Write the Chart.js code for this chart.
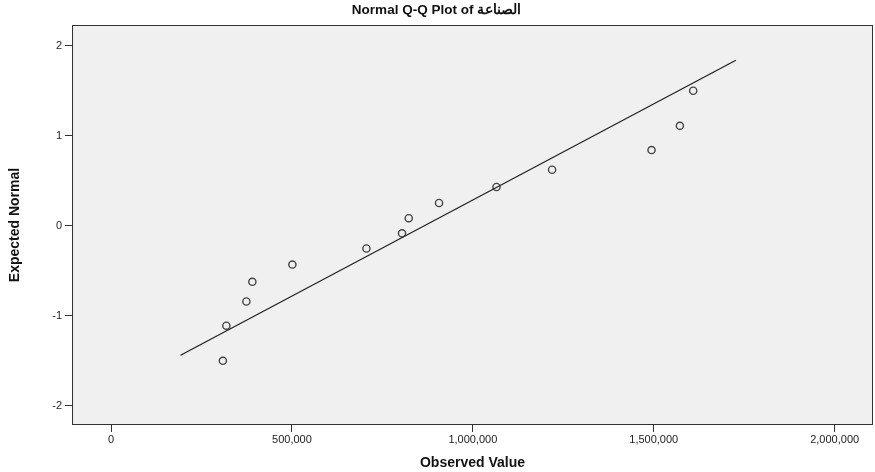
<!DOCTYPE html>
<html>
<head>
<meta charset="utf-8">
<script src="https://cdn.jsdelivr.net/npm/chart.js@4"></script>
<style>
  body { margin: 0; background: #fff; }
  #wrap { width: 875px; height: 472px; }
</style>
</head>
<body>
<div id="wrap"><canvas id="qq" width="875" height="472"></canvas></div>
<script>
// observed values and their expected normal scores
const observedValues = [309000, 318600, 373900, 390500, 501100, 705800, 804200,
  822700, 906500, 1065300, 1219000, 1493900, 1572200, 1609000];
const expectedNormal = [-1.501, -1.111, -0.842, -0.623, -0.431, -0.253, -0.084,
  0.084, 0.253, 0.431, 0.623, 0.842, 1.111, 1.501];

// reference line end points
const lineX = [192000, 1727000];
const lineY = [-1.44, 1.84];

const xTicks = [0, 500000, 1000000, 1500000, 2000000];
const yTicks = [-2, -1, 0, 1, 2];

const chartTitle = 'Normal Q-Q Plot of الصناعة';
const xTitle = 'Observed Value';
const yTitle = 'Expected Normal';

const font = "'Liberation Sans', Arial, sans-serif";

// plot background + frame
const framePlugin = {
  id: 'frame',
  beforeDatasetsDraw(chart) {
    const { ctx, chartArea: a } = chart;
    ctx.save();
    ctx.fillStyle = '#f0f0f0';
    ctx.fillRect(a.left, a.top, a.right - a.left, a.bottom - a.top);
    ctx.restore();
  },
  afterDraw(chart) {
    const { ctx, chartArea: a } = chart;
    ctx.save();
    ctx.strokeStyle = '#333';
    ctx.lineWidth = 1;
    ctx.strokeRect(a.left + 0.5, a.top + 0.5, a.right - a.left - 1, a.bottom - a.top - 1);
    ctx.restore();
  }
};

const pts = observedValues.map((x, i) => ({ x, y: expectedNormal[i] }));
const linePts = lineX.map((x, i) => ({ x, y: lineY[i] }));

new Chart(document.getElementById('qq'), {
  type: 'scatter',
  data: {
    datasets: [
      {
        data: linePts,
        showLine: true,
        borderColor: '#222',
        borderWidth: 1.3,
        pointRadius: 0,
        fill: false
      },
      {
        data: pts,
        pointRadius: 3.6,
        pointBorderWidth: 1.4,
        pointBorderColor: '#444',
        pointBackgroundColor: 'rgba(0,0,0,0)'
      }
    ]
  },
  options: {
    responsive: false,
    animation: false,
    layout: { autoPadding: false, padding: { left: 0, right: 2, top: 0, bottom: 0 } },
    plugins: {
      legend: { display: false },
      tooltip: { enabled: false },
      title: {
        display: true,
        text: chartTitle,
        color: '#111',
        font: { family: font, size: 13.5, weight: 'bold' },
        padding: { top: 2, bottom: 6.8 }
      }
    },
    scales: {
      x: {
        type: 'linear',
        min: -108000,
        max: 2106000,
        afterFit(scale) { scale.height = 47; },
        afterBuildTicks(scale) { scale.ticks = xTicks.map(v => ({ value: v })); },
        grid: { drawOnChartArea: false, drawTicks: true, tickLength: 7, color: '#333' },
        border: { display: false },
        ticks: {
          includeBounds: false,
          padding: 1,
          color: '#222',
          font: { family: font, size: 11 },
          maxRotation: 0,
          callback: v => v.toLocaleString('en-US')
        },
        title: {
          display: true,
          text: xTitle,
          color: '#111',
          font: { family: font, size: 14, weight: 'bold' },
          padding: { top: 0, bottom: 0.5 }
        }
      },
      y: {
        type: 'linear',
        min: -2.215,
        max: 2.232,
        afterFit(scale) { scale.width = 72; },
        afterBuildTicks(scale) { scale.ticks = yTicks.map(v => ({ value: v })); },
        grid: { drawOnChartArea: false, drawTicks: true, tickLength: 7, color: '#333' },
        border: { display: false },
        ticks: {
          includeBounds: false,
          padding: 3,
          color: '#222',
          font: { family: font, size: 11 },
          callback: v => String(v)
        },
        title: {
          display: true,
          text: yTitle,
          color: '#111',
          font: { family: "'Liberation Sans Narrow', 'Arial Narrow', " + font, size: 14, weight: 'bold' },
          padding: { top: 7, bottom: 0 }
        }
      }
    }
  },
  plugins: [framePlugin]
});
</script>
</body>
</html>
